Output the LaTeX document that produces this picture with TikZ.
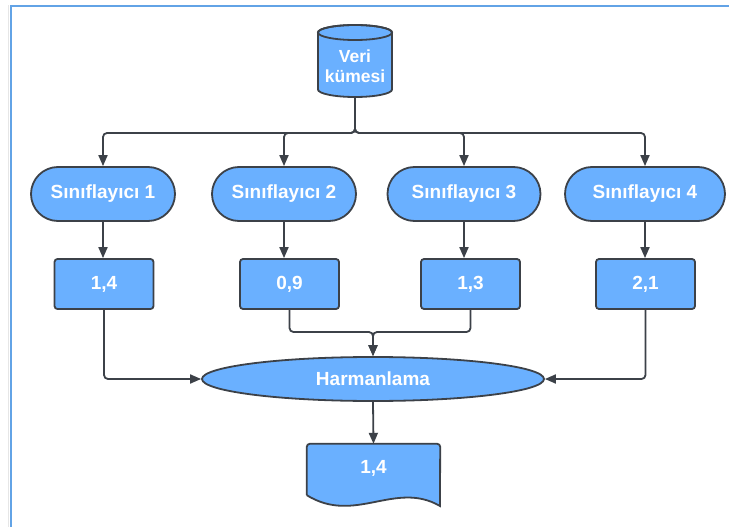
\documentclass[tikz,border=0pt]{standalone}
\usepackage{fontspec}
\setmainfont{Liberation Sans}
\usetikzlibrary{shapes.misc,shapes.geometric,arrows.meta}
\definecolor{boxfill}{HTML}{6AB0FF}
\definecolor{edge}{HTML}{3C4148}
\definecolor{frameblue}{HTML}{62A3E6}
\definecolor{frameshade}{HTML}{E6E6E6}
\begin{document}
\begin{tikzpicture}[x=1pt,y=-1pt,
  shapebase/.style={draw=edge, fill=boxfill, line width=1.8pt, text=white,
    font=\fontsize{19}{22}\selectfont\bfseries, inner sep=0pt},
  classifier/.style={shapebase, rounded rectangle, minimum height=54pt},
  valuebox/.style={shapebase, rectangle, rounded corners=3pt,
    minimum width=99pt, minimum height=50pt},
  blend/.style={shapebase, ellipse, minimum width=342pt, minimum height=44pt},
  plainlabel/.style={text=white, inner sep=0pt, align=center},
  conn/.style={draw=edge, line width=1.8pt, rounded corners=4pt},
  arrowconn/.style={conn, -{Triangle[length=11pt,width=9pt]}},
]
\useasboundingbox (0,0) rectangle (729,527);
\fill[white] (0,0) rectangle (729,527);

% page frame
\draw[frameshade, line width=1pt] (8.5,527) -- (8.5,5);
\draw[frameblue, line width=2.2pt] (11,527) -- (11,6) -- (729,6);

% data set (cylinder)
\node[minimum width=74pt, minimum height=72pt, inner sep=0pt] (data) at (355,61) {};
\path[draw=edge, fill=boxfill, line width=1.8pt]
  (318,32.5) -- (318,89.5)
  arc[start angle=180, end angle=0, x radius=37, y radius=7.5]
  -- (392,32.5)
  arc[start angle=0, end angle=-180, x radius=37, y radius=7.5] -- cycle;
\draw[edge, line width=1.8pt] (355,32.5) ellipse[x radius=37, y radius=7.5];
\node[plainlabel, font=\fontsize{17.5}{20.5}\selectfont\bfseries] (datatext) at (355,66) {Veri\\kümesi};

% classifiers
\node[classifier, minimum width=144pt] (c1) at (103,194) {Sınıflayıcı 1};
\node[classifier, minimum width=144pt] (c2) at (284,194) {Sınıflayıcı 2};
\node[classifier, minimum width=153pt] (c3) at (464,194) {Sınıflayıcı 3};
\node[classifier, minimum width=160pt] (c4) at (645,194) {Sınıflayıcı 4};

% scores
\node[valuebox] (v1) at (104,284) {1,4};
\node[valuebox] (v2) at (289.5,284) {0,9};
\node[valuebox] (v3) at (470.5,284) {1,3};
\node[valuebox] (v4) at (645.5,284) {2,1};

% blending
\node[blend] (merge) at (373,379) {Harmanlama};

% result (document shape)
\node[minimum width=133pt, minimum height=51pt, inner sep=0pt] (out) at (373.5,469.5) {};
\draw[draw=edge, fill=boxfill, line width=1.8pt]
  (out.south west) [rounded corners=3pt] -- (out.north west) -- (out.north east)
  -- (440,500) [sharp corners] -- (440,506)
  .. controls (395,480) and (355,525) .. (out.south west);
\node[plainlabel, font=\fontsize{19}{22}\selectfont\bfseries] (outtext) at (373.5,468) {1,4};

% connectors
\coordinate (split) at (355,133);
\coordinate (join) at (373,332);
\foreach \c in {c1,c2,c3,c4}
  \draw[arrowconn] (data.south) -- (split) -| (\c.north);
\foreach \c/\v in {c1/v1,c2/v2,c3/v3,c4/v4}
  \draw[arrowconn] (\c.south) -- (\c.south |- \v.north);
\draw[arrowconn] (v2.south) |- (join) -- (merge.north);
\draw[arrowconn] (v3.south) |- (join) -- (merge.north);
\draw[arrowconn] (v1.south) |- (merge.west);
\draw[arrowconn] (v4.south) |- (merge.east);
\draw[arrowconn] (merge.south) -- (out.north);
\end{tikzpicture}
\end{document}
